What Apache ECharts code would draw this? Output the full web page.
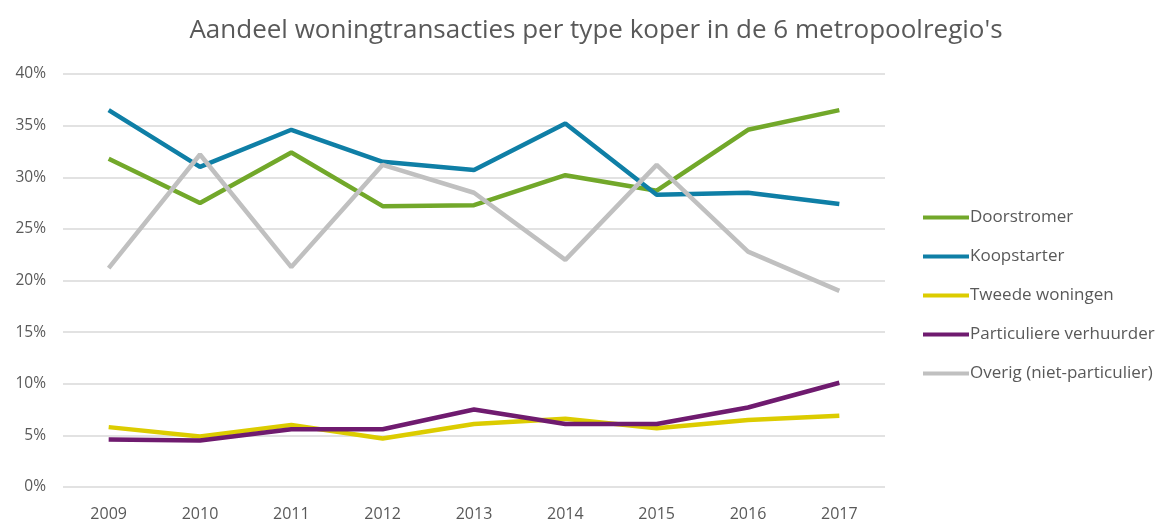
<!DOCTYPE html>
<html>
<head>
<meta charset="utf-8">
<script src="https://cdn.jsdelivr.net/npm/echarts@6/dist/echarts.min.js"></script>
<style>
  html, body { margin: 0; padding: 0; background: #fff; }
  #chart { width: 1166px; height: 522px; }
</style>
</head>
<body>
<div id="chart"></div>
<script>
const years = ['2009', '2010', '2011', '2012', '2013', '2014', '2015', '2016', '2017'];
const doorstromer = [31.8, 27.5, 32.4, 27.2, 27.3, 30.2, 28.7, 34.6, 36.5];
const koopstarter = [36.5, 31.0, 34.6, 31.5, 30.7, 35.2, 28.3, 28.5, 27.4];
const tweedeWoningen = [5.8, 4.9, 6.0, 4.7, 6.1, 6.6, 5.7, 6.5, 6.9];
const particuliereVerhuurder = [4.6, 4.5, 5.6, 5.6, 7.5, 6.1, 6.1, 7.7, 10.1];
const overig = [21.2, 32.2, 21.3, 31.2, 28.5, 22.0, 31.2, 22.8, 19.0];

const font = 'Open Sans, Noto Sans, sans-serif';

function line(name, data, color) {
  return {
    name: name,
    type: 'line',
    data: data,
    symbol: 'none',
    lineStyle: { color: color, width: 4.5 },
    itemStyle: { color: color }
  };
}

const chart = echarts.init(document.getElementById('chart'));
chart.setOption({
  animation: false,
  title: {
    text: "Aandeel woningtransacties per type koper in de 6 metropoolregio's",
    left: 591,
    textAlign: 'center',
    top: 13,
    textStyle: { fontFamily: font, fontSize: 26, fontWeight: 'normal', color: '#595959' }
  },
  grid: { left: 63, right: 281, top: 74, bottom: 35 },
  legend: {
    orient: 'vertical',
    left: 918,
    top: 204,
    icon: 'rect',
    itemWidth: 46,
    itemHeight: 4,
    itemGap: 22,
    textStyle: { fontFamily: font, fontSize: 17, color: '#595959', padding: [0, 0, 0, -4] },
    data: ['Doorstromer', 'Koopstarter', 'Tweede woningen', 'Particuliere verhuurder', 'Overig (niet-particulier)']
  },
  xAxis: {
    type: 'category',
    data: years,
    boundaryGap: true,
    axisLine: { show: false },
    axisTick: { show: false },
    axisLabel: { fontFamily: font, fontSize: 16, color: '#595959', margin: 19 }
  },
  yAxis: {
    type: 'value',
    min: 0,
    max: 40,
    interval: 5,
    axisLine: { show: false },
    axisTick: { show: false },
    axisLabel: { fontFamily: font, fontSize: 15.5, color: '#595959', formatter: '{value}%', margin: 17 },
    splitLine: { lineStyle: { color: '#d9d9d9', width: 1.5 } }
  },
  series: [
    line('Doorstromer', doorstromer, '#72a82a'),
    line('Koopstarter', koopstarter, '#0f7fa6'),
    line('Tweede woningen', tweedeWoningen, '#dccc00'),
    line('Particuliere verhuurder', particuliereVerhuurder, '#6f1b6f'),
    line('Overig (niet-particulier)', overig, '#c0c0c0')
  ]
});
</script>
</body>
</html>
